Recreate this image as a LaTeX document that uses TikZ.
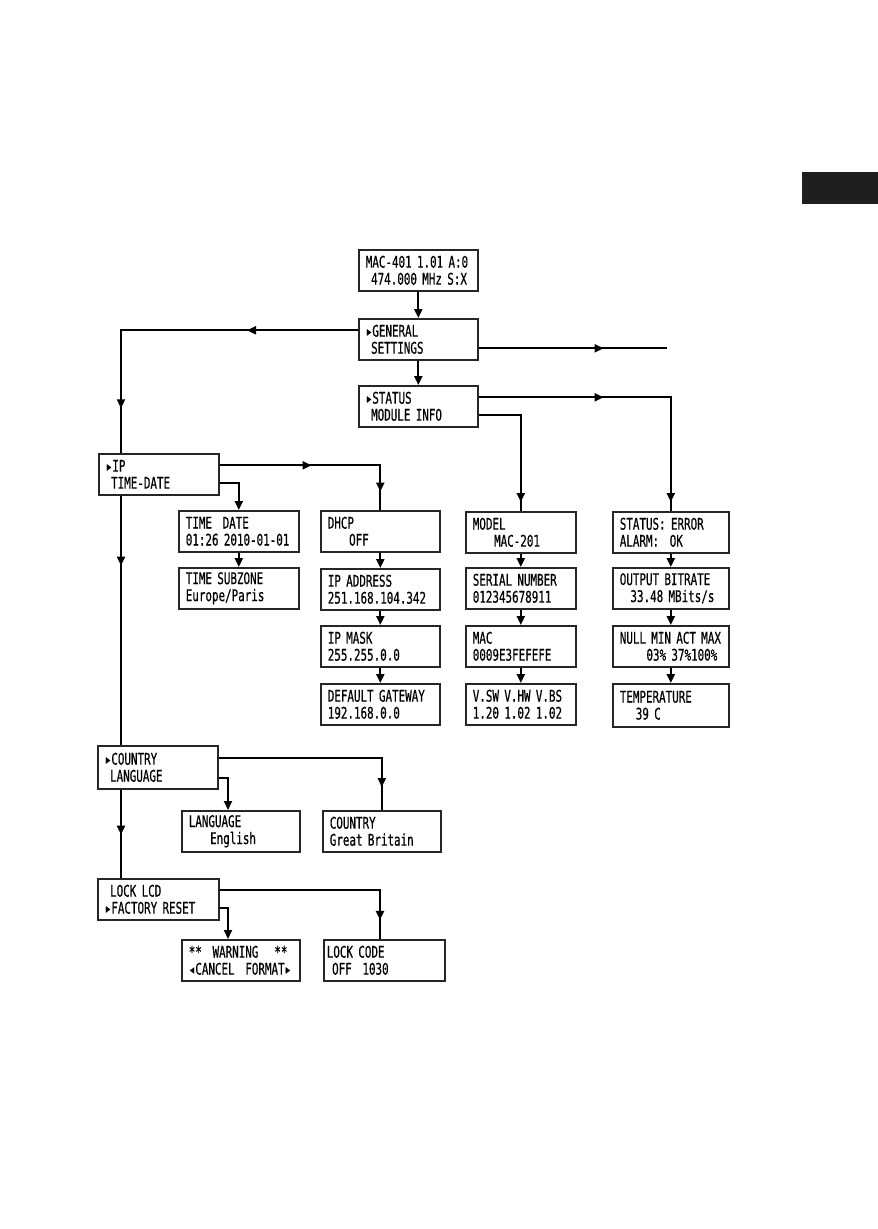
\documentclass[tikz,border=0pt]{standalone}
\usepackage{fontspec}
\newfontfamily\lcdfont[FakeStretch=0.68, FakeBold=0.5]{DejaVu Sans Mono}
\usetikzlibrary{arrows.meta, decorations.markings}
\newcommand{\lead}{\mbox{}}

\begin{document}
\begin{tikzpicture}[
  x=1pt, y=-1pt,
  lcd/.style={draw=black!85, line width=1.6pt, anchor=north west, minimum height=41pt, inner xsep=7pt, inner ysep=2pt, text width=#1, align=left, font=\lcdfont\fontsize{16}{17}\selectfont\frenchspacing},
  lcd/.default=106pt,
  link/.style={line width=2pt},
  endtip/.style={-{Triangle[length=9pt, width=8pt]}},
  tipat/.style={postaction={decorate, decoration={markings, mark=at position #1 with {\arrow{Triangle[length=9pt, width=8pt]}}}}}
]
\useasboundingbox (0,0) rectangle (878,1229);
\fill[black!88] (802,172) rectangle (878,204);

% Main menu column
\node[lcd=105pt] (mac) at (358,249) {MAC-401~1.01~A:0\\\lead~474.000~MHz~S:X};
\node[lcd=105pt] (gen) at (358,318) {▸GENERAL\\\lead~SETTINGS};
\node[lcd=105pt] (stat) at (358,385) {▸STATUS\\\lead~MODULE~INFO};
\draw[link, endtip] (mac) -- (gen);
\draw[link, endtip] (gen) -- (stat);
\path ([yshift=-9pt]gen.east) ++(188,0) coordinate (genout);
\draw[link, tipat=125pt] ([yshift=-9pt]gen.east) -- (genout);

% General settings: left column
\node[lcd] (ip) at (98,453) {▸IP\\\lead~TIME-DATE};
\node[lcd, minimum height=43pt] (cl) at (97,745) {▸COUNTRY\\\lead~LANGUAGE};
\node[lcd=107pt] (lock) at (97,878) {\lead~LOCK~LCD\\▸FACTORY~RESET};
\draw[link, tipat=111pt, tipat=315pt] ([yshift=9pt]gen.west) -| ([xshift=23pt]ip.north west);
\draw[link, tipat=70pt] ([xshift=23pt]ip.south west) -- ([xshift=24pt]cl.north west);
\draw[link, tipat=45pt] ([xshift=24pt]cl.south west) -- ([xshift=24pt]lock.north west);

% IP / time-date
\node[lcd] (td) at (178,510) {TIME~~DATE\\01:26~2010-01-01};
\node[lcd] (tsz) at (178,567) {TIME~SUBZONE\\Europe/Paris};
\node[lcd=105pt] (dhcp) at (320,510) {DHCP\\\lead~~~~OFF};
\node[lcd=105pt] (ipaddr) at (320,568) {IP~ADDRESS\\251.168.104.342};
\node[lcd=105pt] (ipmask) at (320,625) {IP~MASK\\255.255.0.0};
\node[lcd=105pt] (gw) at (320,683) {DEFAULT~GATEWAY\\192.168.0.0};
\draw[link, tipat=92pt, tipat=187pt] ([yshift=9pt]ip.east) -| (dhcp.north);
\draw[link, endtip] ([yshift=-9pt]ip.east) -| (td.north);
\draw[link, endtip] (td) -- (tsz);
\draw[link, endtip] (dhcp) -- (ipaddr);
\draw[link, endtip] (ipaddr) -- (ipmask);
\draw[link, endtip] (ipmask) -- (gw);

% Status / module info
\node[lcd=96pt] (model) at (465,511) {MODEL\\\lead~~~~MAC-201};
\node[lcd=96pt] (serial) at (465,567) {SERIAL~NUMBER\\012345678911};
\node[lcd=96pt] (macaddr) at (465,625) {MAC\\0009E3FEFEFE};
\node[lcd=96pt] (ver) at (465,683) {V.SW~V.HW~V.BS\\1.20~1.02~1.02};
\node[lcd=102pt] (alarm) at (612,511) {STATUS:~ERROR\\ALARM:~~OK};
\node[lcd=102pt] (bitrate) at (612,567) {OUTPUT~BITRATE\\\lead~~33.48~MBits/s};
\node[lcd=102pt] (nullmax) at (612,625) {NULL~MIN~ACT~MAX\\\lead~~~~~03\%~37\%100\%};
\node[lcd=102pt, minimum height=43pt] (temp) at (612,683) {TEMPERATURE\\\lead~~~39~C};
\draw[link, tipat=125pt, tipat=-9pt] ([yshift=9pt]stat.east) -| (alarm.north);
\draw[link, tipat=-9pt] ([yshift=-9pt]stat.east) -| (model.north);
\draw[link, endtip] (model) -- (serial);
\draw[link, endtip] (serial) -- (macaddr);
\draw[link, endtip] (macaddr) -- (ver);
\draw[link, endtip] (alarm) -- (bitrate);
\draw[link, endtip] (bitrate) -- (nullmax);
\draw[link, endtip] (nullmax) -- (temp);

% Country / language
\node[lcd=104pt] (lang) at (181,810) {LANGUAGE\\\lead~~~~English};
\node[lcd=104pt] (cgb) at (322,810) {COUNTRY\\Great~Britain};
\draw[link, tipat=192pt] ([yshift=9pt]cl.east) -| (cgb.north);
\draw[link, endtip] ([yshift=-11pt]cl.east) -| ([xshift=47pt]lang.north west);

% Lock LCD / factory reset
\node[lcd=104pt] (warn) at (181,939) {**~~WARNING~~~**\\◂CANCEL~~FORMAT▸};
\node[lcd=115pt, inner xsep=3pt] (lcode) at (323,939) {LOCK~CODE\\\lead~OFF~~1030};
\draw[link, tipat=190pt] ([yshift=9pt]lock.east) -| ([xshift=57pt]lcode.north west);
\draw[link, endtip] ([yshift=-9pt]lock.east) -| ([xshift=47pt]warn.north west);

\end{tikzpicture}
\end{document}
